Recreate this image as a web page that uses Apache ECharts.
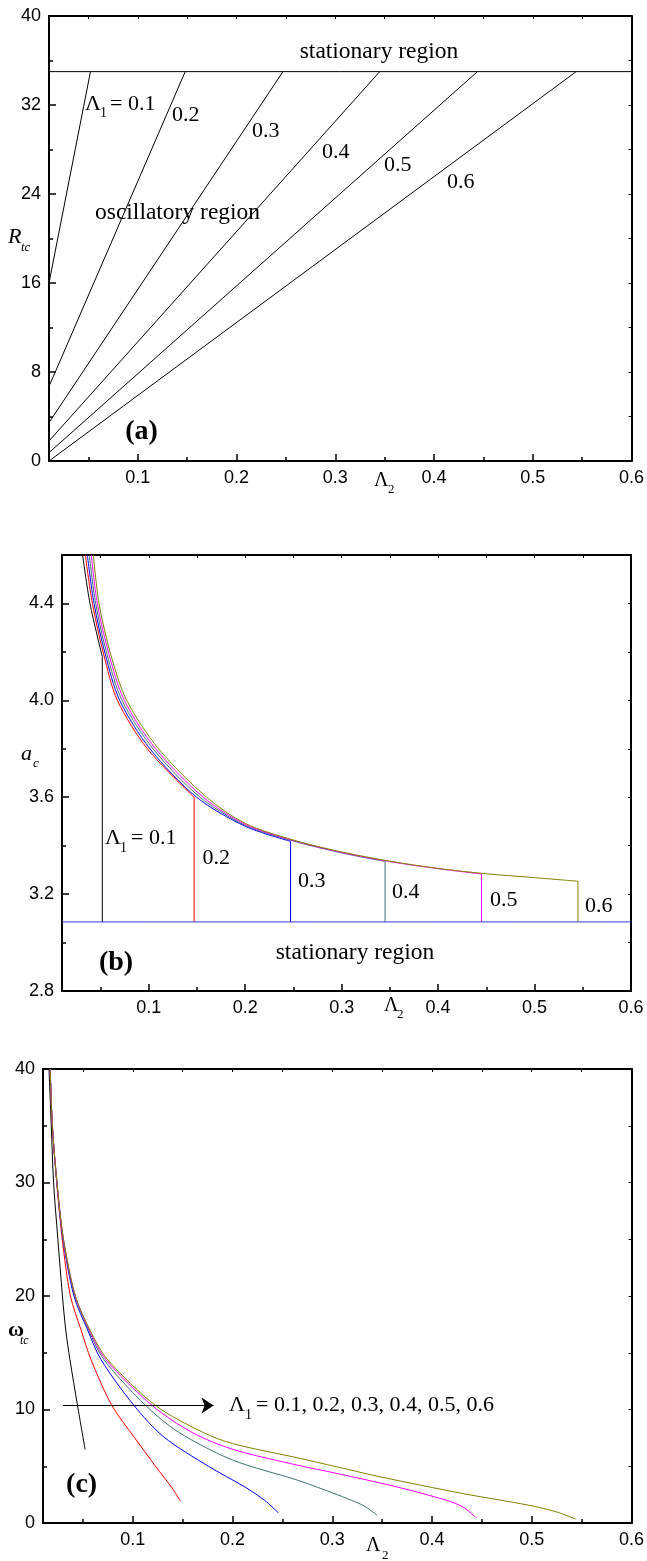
<!DOCTYPE html>
<html>
<head>
<meta charset="utf-8">
<script src="https://cdn.jsdelivr.net/npm/echarts@6/dist/echarts.min.js"></script>
<style>
html,body{margin:0;padding:0;background:#fff;}
#chart{width:647px;height:1561px;}
</style>
</head>
<body>
<div id="chart"></div>
<script>
// ---------------- data ----------------
const lambda1Values = [0.1, 0.2, 0.3, 0.4, 0.5, 0.6];
const xTickMajor = [0.1, 0.2, 0.3, 0.4, 0.5, 0.6];
const xTickMinor = [0.05, 0.15, 0.25, 0.35, 0.45, 0.55];
const xTickTop = [0.05, 0.1, 0.15, 0.2, 0.25, 0.3, 0.35, 0.4, 0.45, 0.5, 0.55, 0.6];

// panel (a): R_tc
const aYMajor = [0, 8, 16, 24, 32, 40];
const aYMinor = [4, 12, 20, 28, 36];
const aYAll = [0, 4, 8, 12, 16, 20, 24, 28, 32, 36, 40];
const aStationaryR = 35;                                  // boundary line R_tc
const aStartR = [16, 6.7, 3.45, 1.8, 0.75, 0];            // R_tc at Lambda2 = 0.01
const aTopLambda2 = [0.052, 0.148, 0.247, 0.345, 0.444, 0.544]; // Lambda2 where line meets boundary

// panel (b): a_c
const bYMajor = [2.8, 3.2, 3.6, 4.0, 4.4];
const bYMinor = [3.0, 3.4, 3.8, 4.2];
const bYAll = [2.8, 3.0, 3.2, 3.4, 3.6, 3.8, 4.0, 4.2, 4.4, 4.6];
const bStationaryA = 3.085;
const bCurve01 = [[0.0314,4.6],[0.039,4.4],[0.0518,4.18]];
const bCurve02 = [[0.0342,4.6],[0.0415,4.4],[0.0532,4.19],[0.0674,4.0],[0.0985,3.8],[0.147,3.6]];
const bCurve03 = [[0.0363,4.6],[0.0432,4.4],[0.0549,4.19],[0.0698,4.0],[0.1012,3.8],[0.1496,3.6],[0.2,3.48],[0.247,3.418]];
const bCurve04 = [[0.0383,4.6],[0.0449,4.4],[0.0567,4.19],[0.0722,4.0],[0.1044,3.8],[0.1531,3.6],[0.2,3.484],[0.25,3.419],[0.3,3.37],[0.345,3.335]];
const bCurve05 = [[0.0404,4.6],[0.0466,4.4],[0.0587,4.19],[0.0746,4.0],[0.1071,3.8],[0.1565,3.6],[0.2,3.488],[0.25,3.421],[0.3,3.372],[0.35,3.334],[0.4,3.305],[0.445,3.283]];
const bCurve06 = [[0.0425,4.6],[0.0484,4.4],[0.0605,4.19],[0.0771,4.0],[0.1102,3.8],[0.16,3.6],[0.2,3.492],[0.25,3.423],[0.3,3.374],[0.35,3.336],[0.4,3.306],[0.45,3.284],[0.5,3.268],[0.545,3.253]];

// panel (c): omega_tc
const cYMajor = [0, 10, 20, 30, 40];
const cYMinor = [5, 15, 25, 35];
const cYAll = [0, 5, 10, 15, 20, 25, 30, 35, 40];
const cCurve01 = [[0.0160,40],[0.0183,35],[0.0206,30],[0.0249,25],[0.0295,20],[0.0328,17],[0.0370,14.4],[0.0446,10.36],[0.0522,6.48]];
const cCurve02 = [[0.0172,40],[0.0193,35],[0.0237,30],[0.0293,25],[0.0375,20],[0.0482,17],[0.0581,14.4],[0.0790,10.36],[0.1012,7.59],[0.1228,5.0],[0.1393,3.1],[0.1477,1.94]];
const cCurve03 = [[0.0172,40],[0.0194,35],[0.0239,30],[0.0300,25],[0.0410,20],[0.0548,17],[0.0681,14.4],[0.1012,10.36],[0.1310,7.59],[0.1758,5.0],[0.2123,3.18],[0.2322,2.0],[0.2461,0.88]];
const cCurve04 = [[0.0172,40],[0.0194,35],[0.0240,30],[0.0303,25],[0.0420,20],[0.0558,17],[0.0710,14.4],[0.1129,10.36],[0.1460,8.0],[0.2000,5.55],[0.2653,3.77],[0.3050,2.5],[0.3150,2.15],[0.3320,1.5],[0.3450,0.68]];
const cCurve05 = [[0.0172,40],[0.0194,35],[0.0240,30],[0.0305,25],[0.0423,20],[0.0565,17],[0.0730,14.4],[0.1194,10.36],[0.1590,8.0],[0.2000,6.5],[0.2653,5.09],[0.3050,4.36],[0.3648,3.18],[0.4145,2.0],[0.4312,1.4],[0.4441,0.48]];
const cCurve06 = [[0.0172,40],[0.0194,35],[0.0240,30],[0.0306,25],[0.0425,20],[0.0571,17],[0.0747,14.4],[0.1228,10.36],[0.1700,8.0],[0.2000,7.0],[0.2653,5.74],[0.3050,4.94],[0.3485,4.06],[0.4312,2.59],[0.4974,1.56],[0.5240,1.0],[0.5440,0.35]];
const cArrow = [[0.03, 10.35], [0.181, 10.35]];

// ---------------- styling / layout ----------------
const X_MIN = 0.01, X_MAX = 0.6;
const lineColors = ['#000000', '#ff0000', '#0000ff', '#3f7272', '#ff00ff', '#808000'];
const bLineColor = '#3a3ad6';
const SANS = '"Liberation Sans", Arial, sans-serif';
const SERIF = '"Liberation Serif", "Times New Roman", serif';

const panels = [
  { grid: {left: 49, top: 16, width: 583, height: 445}, yMin: 0, yMax: 40,
    yMajor: aYMajor, yMinor: aYMinor, yAll: aYAll, fmt: v => String(v) },
  { grid: {left: 62, top: 555, width: 569, height: 436}, yMin: 2.8, yMax: 4.6,
    yMajor: bYMajor, yMinor: bYMinor, yAll: bYAll, fmt: v => Number(v).toFixed(1) },
  { grid: {left: 43, top: 1069, width: 593, height: 454}, yMin: 0, yMax: 40,
    yMajor: cYMajor, yMinor: cYMinor, yAll: cYAll, fmt: v => String(v) }
];

const grids = [], xAxes = [], yAxes = [];
panels.forEach((p, i) => {
  grids.push(Object.assign({containLabel: false}, p.grid));
  xAxes.push({gridIndex: i, type: 'value', min: X_MIN, max: X_MAX, position: 'bottom',
    axisLine: {show: true, onZero: false, lineStyle: {color: '#000', width: 2}},
    axisTick: {show: true, inside: true, length: 7, customValues: xTickMajor, lineStyle: {color: '#000', width: 1.5}},
    axisLabel: {show: true, customValues: xTickMajor, margin: 8, color: '#000', fontSize: 18, fontFamily: SANS, formatter: v => String(v)},
    splitLine: {show: false}});
  xAxes.push({gridIndex: i, type: 'value', min: X_MIN, max: X_MAX, position: 'bottom',
    axisLine: {show: false, onZero: false},
    axisTick: {show: true, inside: true, length: 4, customValues: xTickMinor, lineStyle: {color: '#000', width: 1.5}},
    axisLabel: {show: false}, splitLine: {show: false}});
  xAxes.push({gridIndex: i, type: 'value', min: X_MIN, max: X_MAX, position: 'top',
    axisLine: {show: true, onZero: false, lineStyle: {color: '#000', width: 2}},
    axisTick: {show: true, inside: true, length: 3, customValues: xTickTop, lineStyle: {color: '#000', width: 1}},
    axisLabel: {show: false}, splitLine: {show: false}});
  yAxes.push({gridIndex: i, type: 'value', min: p.yMin, max: p.yMax, position: 'left',
    axisLine: {show: true, onZero: false, lineStyle: {color: '#000', width: 2}},
    axisTick: {show: true, inside: true, length: 7, customValues: p.yMajor, lineStyle: {color: '#000', width: 1.5}},
    axisLabel: {show: true, customValues: p.yMajor, margin: 8, color: '#000', fontSize: 18, fontFamily: SANS, formatter: p.fmt},
    splitLine: {show: false}});
  yAxes.push({gridIndex: i, type: 'value', min: p.yMin, max: p.yMax, position: 'left',
    axisLine: {show: false, onZero: false},
    axisTick: {show: true, inside: true, length: 4, customValues: p.yMinor, lineStyle: {color: '#000', width: 1.5}},
    axisLabel: {show: false}, splitLine: {show: false}});
  yAxes.push({gridIndex: i, type: 'value', min: p.yMin, max: p.yMax, position: 'right',
    axisLine: {show: true, onZero: false, lineStyle: {color: '#000', width: 2}},
    axisTick: {show: true, inside: true, length: 3, customValues: p.yAll, lineStyle: {color: '#000', width: 1}},
    axisLabel: {show: false}, splitLine: {show: false}});
});

const series = [];
function line(panel, data, color, opts) {
  return Object.assign({type: 'line', xAxisIndex: panel * 3, yAxisIndex: panel * 3, data: data,
    symbol: 'none', showSymbol: false, silent: true, animation: false, clip: true,
    lineStyle: {color: color, width: 1}}, opts || {});
}

// (a)
series.push(line(0, [[X_MIN, aStationaryR], [X_MAX, aStationaryR]], '#000'));
lambda1Values.forEach((l, i) => {
  series.push(line(0, [[X_MIN, aStartR[i]], [aTopLambda2[i], aStationaryR]], '#000'));
});

// (b)
const bCurves = [bCurve01, bCurve02, bCurve03, bCurve04, bCurve05, bCurve06];
bCurves.forEach((c, i) => {
  series.push(line(1, c, lineColors[i], {smooth: 0.3}));
});
bCurves.forEach((c, i) => {
  const last = c[c.length - 1];
  series.push(line(1, [[last[0], last[1]], [last[0], bStationaryA]], lineColors[i]));
});
series.push(line(1, [[X_MIN, bStationaryA], [X_MAX, bStationaryA]], bLineColor));

// (c)
const cCurves = [cCurve01, cCurve02, cCurve03, cCurve04, cCurve05, cCurve06];
cCurves.forEach((c, i) => {
  series.push(line(2, c, lineColors[i], {smooth: 0.3}));
});
series.push(line(2, [], '#000', {
  markLine: {silent: true, animation: false, symbol: ['none', 'arrow'], symbolSize: 12,
    label: {show: false}, lineStyle: {color: '#000', width: 1, type: 'solid'},
    data: [[{coord: cArrow[0]}, {coord: cArrow[1]}]]}
}));

// ---------------- text annotations ----------------
function T(x, y, text, size, o) {
  o = o || {};
  const font = (o.italic ? 'italic ' : '') + (o.bold ? 'bold ' : '') + size + 'px ' + SERIF;
  return {type: 'text', x: x, y: y, silent: true, z: 100,
    style: {text: text, fill: '#000', font: font,
      align: o.align || 'left', verticalAlign: 'middle',
      textAlign: o.align || 'left', textVerticalAlign: 'middle'}};
}
const graphics = [
  // (a)
  T(379, 52, 'stationary region', 23.5, {align: 'center'}),
  T(95, 213, 'oscillatory region', 23.5),
  T(85, 104, 'Λ', 22), T(100, 113, '1', 14), T(110, 104, '= 0.1', 22),
  T(172, 115, '0.2', 22), T(252, 131, '0.3', 22), T(322, 152, '0.4', 22),
  T(384, 165, '0.5', 22), T(447, 182, '0.6', 22),
  T(141.5, 432, '(a)', 28, {bold: true, align: 'center'}),
  T(8, 237, 'R', 22, {italic: true}), T(21, 248, 'tc', 13, {italic: true}),
  T(374, 481, 'Λ', 20), T(388, 490, '2', 13),
  // (b)
  T(105, 838, 'Λ', 22), T(120, 848, '1', 14), T(131, 838, '= 0.1', 22),
  T(202.5, 858, '0.2', 22), T(298, 881, '0.3', 22), T(392, 892, '0.4', 22),
  T(490, 900, '0.5', 22), T(585, 906, '0.6', 22),
  T(355, 953, 'stationary region', 23.5, {align: 'center'}),
  T(116, 963, '(b)', 28, {bold: true, align: 'center'}),
  T(21, 754, 'a', 22, {italic: true}), T(33, 764, 'c', 13, {italic: true}),
  T(384, 1006, 'Λ', 20), T(397, 1015, '2', 13),
  // (c)
  T(229, 1405, 'Λ', 22), T(245, 1415, '1', 14), T(256, 1405, '= 0.1, 0.2, 0.3, 0.4, 0.5, 0.6', 22),
  T(81.6, 1485, '(c)', 28, {bold: true, align: 'center'}),
  T(8, 1330, 'ω', 22, {bold: true}), T(20, 1341, 'tc', 12, {italic: true}),
  T(366, 1546, 'Λ', 20), T(382, 1556, '2', 13)
];

const chart = echarts.init(document.getElementById('chart'), null, {renderer: 'canvas'});
chart.setOption({
  animation: false,
  backgroundColor: '#fff',
  grid: grids,
  xAxis: xAxes,
  yAxis: yAxes,
  series: series,
  graphic: {elements: graphics}
});
</script>
</body>
</html>
